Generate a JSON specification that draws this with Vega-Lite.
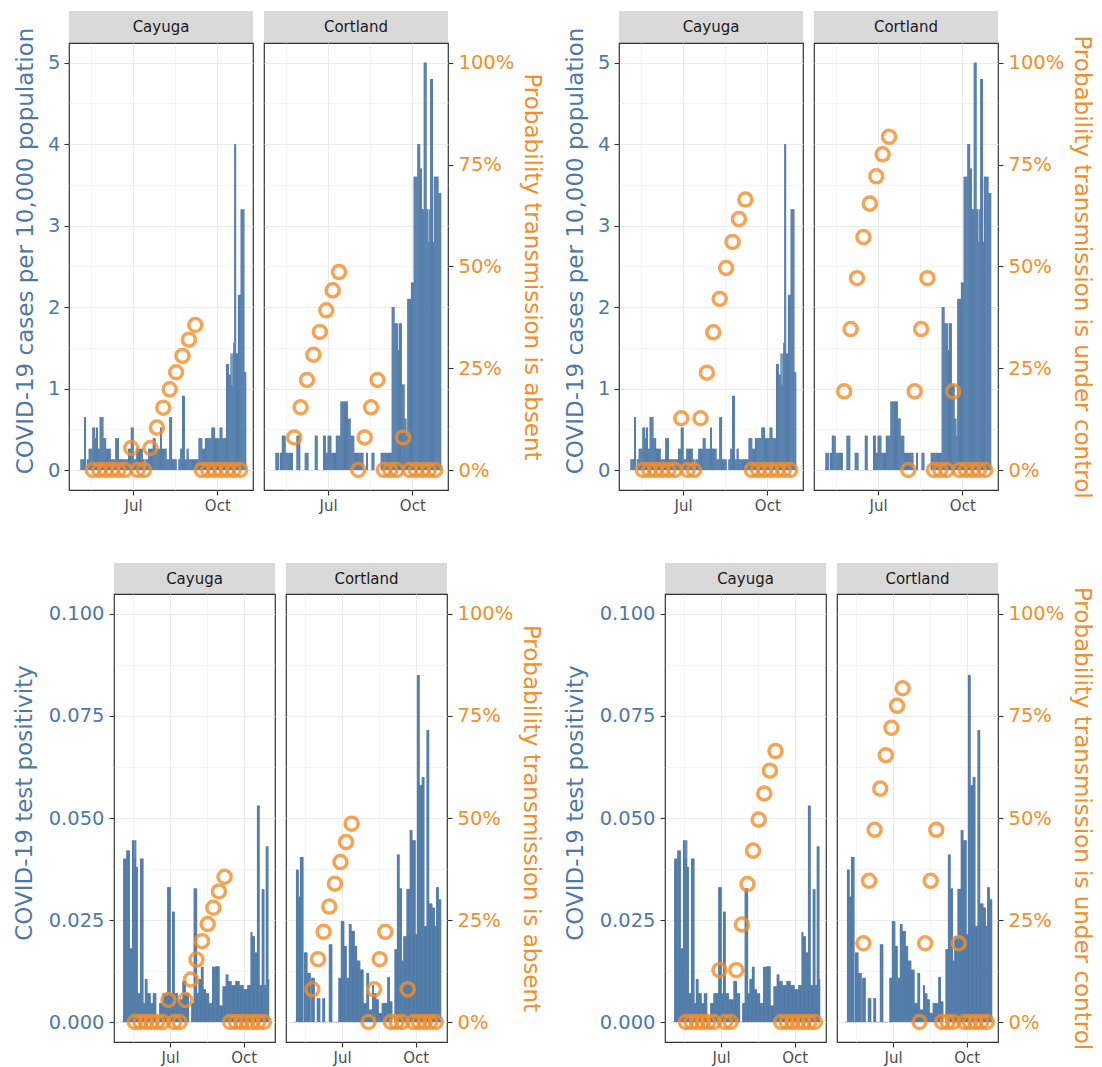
{
"$schema":"https://vega.github.io/schema/vega-lite/v6.json",
"padding":{"left":12,"top":11,"right":0,"bottom":0},
"datasets":{
"daily":[
{"date":"2020-05-01","cay_cases":0,"cor_cases":0,"cay_pos":0,"cor_pos":0},
{"date":"2020-05-02","cay_cases":0,"cor_cases":0,"cay_pos":0,"cor_pos":0},
{"date":"2020-05-03","cay_cases":0,"cor_cases":0,"cay_pos":0.04,"cor_pos":0},
{"date":"2020-05-04","cay_cases":0.13,"cor_cases":0.21,"cay_pos":0.04,"cor_pos":0.0373},
{"date":"2020-05-05","cay_cases":0.13,"cor_cases":0.21,"cay_pos":0.04,"cor_pos":0.0373},
{"date":"2020-05-06","cay_cases":0.13,"cor_cases":0.21,"cay_pos":0.04,"cor_pos":0.0373},
{"date":"2020-05-07","cay_cases":0.13,"cor_cases":0.21,"cay_pos":0.042,"cor_pos":0.0307},
{"date":"2020-05-08","cay_cases":0.65,"cor_cases":0,"cay_pos":0.042,"cor_pos":0.0307},
{"date":"2020-05-09","cay_cases":0.65,"cor_cases":0.21,"cay_pos":0.042,"cor_pos":0.0404},
{"date":"2020-05-10","cay_cases":0,"cor_cases":0.21,"cay_pos":0.042,"cor_pos":0.0404},
{"date":"2020-05-11","cay_cases":0.13,"cor_cases":0.42,"cay_pos":0.018,"cor_pos":0.0404},
{"date":"2020-05-12","cay_cases":0.13,"cor_cases":0.42,"cay_pos":0.018,"cor_pos":0.0404},
{"date":"2020-05-13","cay_cases":0.26,"cor_cases":0.42,"cay_pos":0.018,"cor_pos":0},
{"date":"2020-05-14","cay_cases":0.26,"cor_cases":0.42,"cay_pos":0.0445,"cor_pos":0.017},
{"date":"2020-05-15","cay_cases":0.26,"cor_cases":0.21,"cay_pos":0.0445,"cor_pos":0.017},
{"date":"2020-05-16","cay_cases":0.26,"cor_cases":0.21,"cay_pos":0.0445,"cor_pos":0.017},
{"date":"2020-05-17","cay_cases":0.52,"cor_cases":0.21,"cay_pos":0.04,"cor_pos":0.017},
{"date":"2020-05-18","cay_cases":0.52,"cor_cases":0.21,"cay_pos":0.0445,"cor_pos":0.012},
{"date":"2020-05-19","cay_cases":0.52,"cor_cases":0.21,"cay_pos":0.038,"cor_pos":0.012},
{"date":"2020-05-20","cay_cases":0.39,"cor_cases":0.21,"cay_pos":0.038,"cor_pos":0.012},
{"date":"2020-05-21","cay_cases":0.52,"cor_cases":0.21,"cay_pos":0.007,"cor_pos":0.012},
{"date":"2020-05-22","cay_cases":0.52,"cor_cases":0.21,"cay_pos":0.007,"cor_pos":0},
{"date":"2020-05-23","cay_cases":0.26,"cor_cases":0,"cay_pos":0.007,"cor_pos":0.0108},
{"date":"2020-05-24","cay_cases":0.26,"cor_cases":0,"cay_pos":0.04,"cor_pos":0.0108},
{"date":"2020-05-25","cay_cases":0.65,"cor_cases":0,"cay_pos":0.04,"cor_pos":0.0108},
{"date":"2020-05-26","cay_cases":0.65,"cor_cases":0,"cay_pos":0.04,"cor_pos":0.0108},
{"date":"2020-05-27","cay_cases":0.65,"cor_cases":0.42,"cay_pos":0.04,"cor_pos":0},
{"date":"2020-05-28","cay_cases":0.65,"cor_cases":0.42,"cay_pos":0.0046,"cor_pos":0},
{"date":"2020-05-29","cay_cases":0.39,"cor_cases":0.42,"cay_pos":0.0046,"cor_pos":0},
{"date":"2020-05-30","cay_cases":0.39,"cor_cases":0.42,"cay_pos":0.0105,"cor_pos":0.0058},
{"date":"2020-05-31","cay_cases":0.39,"cor_cases":0,"cay_pos":0.0105,"cor_pos":0.0058},
{"date":"2020-06-01","cay_cases":0.26,"cor_cases":0,"cay_pos":0.0105,"cor_pos":0.0058},
{"date":"2020-06-02","cay_cases":0.26,"cor_cases":0,"cay_pos":0.007,"cor_pos":0.0058},
{"date":"2020-06-03","cay_cases":0.26,"cor_cases":0,"cay_pos":0.007,"cor_pos":0},
{"date":"2020-06-04","cay_cases":0.26,"cor_cases":0,"cay_pos":0.007,"cor_pos":0},
{"date":"2020-06-05","cay_cases":0.26,"cor_cases":0.21,"cay_pos":0.007,"cor_pos":0},
{"date":"2020-06-06","cay_cases":0.13,"cor_cases":0.21,"cay_pos":0.0046,"cor_pos":0.0058},
{"date":"2020-06-07","cay_cases":0.13,"cor_cases":0.21,"cay_pos":0.0046,"cor_pos":0.0058},
{"date":"2020-06-08","cay_cases":0.13,"cor_cases":0.21,"cay_pos":0.0046,"cor_pos":0.0058},
{"date":"2020-06-09","cay_cases":0.13,"cor_cases":0,"cay_pos":0.007,"cor_pos":0},
{"date":"2020-06-10","cay_cases":0.13,"cor_cases":0,"cay_pos":0.007,"cor_pos":0},
{"date":"2020-06-11","cay_cases":0.39,"cor_cases":0,"cay_pos":0.007,"cor_pos":0},
{"date":"2020-06-12","cay_cases":0.39,"cor_cases":0,"cay_pos":0.007,"cor_pos":0},
{"date":"2020-06-13","cay_cases":0.39,"cor_cases":0,"cay_pos":0,"cor_pos":0},
{"date":"2020-06-14","cay_cases":0.39,"cor_cases":0,"cay_pos":0,"cor_pos":0.019},
{"date":"2020-06-15","cay_cases":0.13,"cor_cases":0,"cay_pos":0,"cor_pos":0.019},
{"date":"2020-06-16","cay_cases":0.13,"cor_cases":0.42,"cay_pos":0,"cor_pos":0.019},
{"date":"2020-06-17","cay_cases":0.13,"cor_cases":0.42,"cay_pos":0.0046,"cor_pos":0.019},
{"date":"2020-06-18","cay_cases":0.13,"cor_cases":0.42,"cay_pos":0.0046,"cor_pos":0},
{"date":"2020-06-19","cay_cases":0.13,"cor_cases":0,"cay_pos":0.0046,"cor_pos":0},
{"date":"2020-06-20","cay_cases":0.13,"cor_cases":0,"cay_pos":0.0046,"cor_pos":0},
{"date":"2020-06-21","cay_cases":0.13,"cor_cases":0,"cay_pos":0.007,"cor_pos":0},
{"date":"2020-06-22","cay_cases":0.13,"cor_cases":0,"cay_pos":0.007,"cor_pos":0},
{"date":"2020-06-23","cay_cases":0.13,"cor_cases":0,"cay_pos":0.007,"cor_pos":0},
{"date":"2020-06-24","cay_cases":0.13,"cor_cases":0,"cay_pos":0.007,"cor_pos":0},
{"date":"2020-06-25","cay_cases":0.26,"cor_cases":0.42,"cay_pos":0.007,"cor_pos":0},
{"date":"2020-06-26","cay_cases":0.26,"cor_cases":0.42,"cay_pos":0.007,"cor_pos":0.0108},
{"date":"2020-06-27","cay_cases":0.26,"cor_cases":0.42,"cay_pos":0.033,"cor_pos":0.0108},
{"date":"2020-06-28","cay_cases":0.52,"cor_cases":0.21,"cay_pos":0.033,"cor_pos":0.0108},
{"date":"2020-06-29","cay_cases":0.52,"cor_cases":0.21,"cay_pos":0.033,"cor_pos":0.0247},
{"date":"2020-06-30","cay_cases":0.52,"cor_cases":0.42,"cay_pos":0.033,"cor_pos":0.0247},
{"date":"2020-07-01","cay_cases":0.13,"cor_cases":0.42,"cay_pos":0.007,"cor_pos":0.0247},
{"date":"2020-07-02","cay_cases":0.13,"cor_cases":0.42,"cay_pos":0.007,"cor_pos":0.0247},
{"date":"2020-07-03","cay_cases":0.13,"cor_cases":0.42,"cay_pos":0.027,"cor_pos":0.0186},
{"date":"2020-07-04","cay_cases":0.26,"cor_cases":0.21,"cay_pos":0.027,"cor_pos":0.0186},
{"date":"2020-07-05","cay_cases":0.26,"cor_cases":0.21,"cay_pos":0.027,"cor_pos":0.0186},
{"date":"2020-07-06","cay_cases":0.26,"cor_cases":0.21,"cay_pos":0.007,"cor_pos":0.0108},
{"date":"2020-07-07","cay_cases":0.26,"cor_cases":0.21,"cay_pos":0.007,"cor_pos":0.0108},
{"date":"2020-07-08","cay_cases":0.26,"cor_cases":0.21,"cay_pos":0.007,"cor_pos":0.0108},
{"date":"2020-07-09","cay_cases":0.26,"cor_cases":0.42,"cay_pos":0.007,"cor_pos":0.024},
{"date":"2020-07-10","cay_cases":0.26,"cor_cases":0.42,"cay_pos":0.0055,"cor_pos":0.024},
{"date":"2020-07-11","cay_cases":0.13,"cor_cases":0.42,"cay_pos":0.0055,"cor_pos":0.024},
{"date":"2020-07-12","cay_cases":0.13,"cor_cases":0.42,"cay_pos":0.0055,"cor_pos":0.0223},
{"date":"2020-07-13","cay_cases":0,"cor_cases":0.42,"cay_pos":0.0055,"cor_pos":0.0223},
{"date":"2020-07-14","cay_cases":0.13,"cor_cases":0.84,"cay_pos":0.0055,"cor_pos":0.0223},
{"date":"2020-07-15","cay_cases":0.13,"cor_cases":0.84,"cay_pos":0.0055,"cor_pos":0.0223},
{"date":"2020-07-16","cay_cases":0.13,"cor_cases":0.84,"cay_pos":0.01,"cor_pos":0.0186},
{"date":"2020-07-17","cay_cases":0.26,"cor_cases":0.84,"cay_pos":0.01,"cor_pos":0.0186},
{"date":"2020-07-18","cay_cases":0.26,"cor_cases":0.84,"cay_pos":0.01,"cor_pos":0.0186},
{"date":"2020-07-19","cay_cases":0.26,"cor_cases":0.84,"cay_pos":0.01,"cor_pos":0.015},
{"date":"2020-07-20","cay_cases":0.26,"cor_cases":0.84,"cay_pos":0.007,"cor_pos":0.015},
{"date":"2020-07-21","cay_cases":0.26,"cor_cases":0.84,"cay_pos":0.007,"cor_pos":0.015},
{"date":"2020-07-22","cay_cases":0.39,"cor_cases":0.63,"cay_pos":0.007,"cor_pos":0.015},
{"date":"2020-07-23","cay_cases":0.39,"cor_cases":0.63,"cay_pos":0.007,"cor_pos":0.0128},
{"date":"2020-07-24","cay_cases":0.39,"cor_cases":0.63,"cay_pos":0,"cor_pos":0.0128},
{"date":"2020-07-25","cay_cases":0.26,"cor_cases":0.42,"cay_pos":0,"cor_pos":0.0128},
{"date":"2020-07-26","cay_cases":0.26,"cor_cases":0.42,"cay_pos":0,"cor_pos":0.0128},
{"date":"2020-07-27","cay_cases":0.26,"cor_cases":0.42,"cay_pos":0.0046,"cor_pos":0.0046},
{"date":"2020-07-28","cay_cases":0.26,"cor_cases":0.42,"cay_pos":0.0046,"cor_pos":0.0046},
{"date":"2020-07-29","cay_cases":0.26,"cor_cases":0.21,"cay_pos":0.0046,"cor_pos":0.0046},
{"date":"2020-07-30","cay_cases":0.52,"cor_cases":0.21,"cay_pos":0.0327,"cor_pos":0.0046},
{"date":"2020-07-31","cay_cases":0.52,"cor_cases":0.21,"cay_pos":0.0327,"cor_pos":0.012},
{"date":"2020-08-01","cay_cases":0.26,"cor_cases":0.21,"cay_pos":0.0327,"cor_pos":0.012},
{"date":"2020-08-02","cay_cases":0.26,"cor_cases":0.21,"cay_pos":0.0327,"cor_pos":0.012},
{"date":"2020-08-03","cay_cases":0.26,"cor_cases":0.21,"cay_pos":0.007,"cor_pos":0.003},
{"date":"2020-08-04","cay_cases":0.26,"cor_cases":0.21,"cay_pos":0.007,"cor_pos":0.003},
{"date":"2020-08-05","cay_cases":0.26,"cor_cases":0.21,"cay_pos":0.0105,"cor_pos":0.003},
{"date":"2020-08-06","cay_cases":0.13,"cor_cases":0.21,"cay_pos":0.0105,"cor_pos":0.003},
{"date":"2020-08-07","cay_cases":0.13,"cor_cases":0.21,"cay_pos":0.0105,"cor_pos":0.009},
{"date":"2020-08-08","cay_cases":0.13,"cor_cases":0,"cay_pos":0.0135,"cor_pos":0.009},
{"date":"2020-08-09","cay_cases":0.65,"cor_cases":0,"cay_pos":0.0135,"cor_pos":0.007},
{"date":"2020-08-10","cay_cases":0.65,"cor_cases":0,"cay_pos":0.0135,"cor_pos":0.007},
{"date":"2020-08-11","cay_cases":0.65,"cor_cases":0.21,"cay_pos":0.008,"cor_pos":0.007},
{"date":"2020-08-12","cay_cases":0.13,"cor_cases":0.21,"cay_pos":0.008,"cor_pos":0.0055},
{"date":"2020-08-13","cay_cases":0.13,"cor_cases":0,"cay_pos":0.008,"cor_pos":0.0055},
{"date":"2020-08-14","cay_cases":0.13,"cor_cases":0,"cay_pos":0.007,"cor_pos":0.0055},
{"date":"2020-08-15","cay_cases":0.13,"cor_cases":0,"cay_pos":0.007,"cor_pos":0.0022},
{"date":"2020-08-16","cay_cases":0.13,"cor_cases":0,"cay_pos":0.007,"cor_pos":0.0022},
{"date":"2020-08-17","cay_cases":0,"cor_cases":0.21,"cay_pos":0.007,"cor_pos":0.0022},
{"date":"2020-08-18","cay_cases":0,"cor_cases":0.21,"cay_pos":0.0046,"cor_pos":0.0022},
{"date":"2020-08-19","cay_cases":0.13,"cor_cases":0.21,"cay_pos":0.0046,"cor_pos":0.0046},
{"date":"2020-08-20","cay_cases":0.13,"cor_cases":0,"cay_pos":0.0046,"cor_pos":0.0046},
{"date":"2020-08-21","cay_cases":0.26,"cor_cases":0,"cay_pos":0.0046,"cor_pos":0.0046},
{"date":"2020-08-22","cay_cases":0.26,"cor_cases":0,"cay_pos":0.0135,"cor_pos":0.0046},
{"date":"2020-08-23","cay_cases":0.91,"cor_cases":0,"cay_pos":0.0135,"cor_pos":0.0046},
{"date":"2020-08-24","cay_cases":0.91,"cor_cases":0,"cay_pos":0.0135,"cor_pos":0.0046},
{"date":"2020-08-25","cay_cases":0.91,"cor_cases":0,"cay_pos":0.0135,"cor_pos":0.0046},
{"date":"2020-08-26","cay_cases":0.13,"cor_cases":0,"cay_pos":0.0136,"cor_pos":0.011},
{"date":"2020-08-27","cay_cases":0.13,"cor_cases":0.21,"cay_pos":0.0136,"cor_pos":0.011},
{"date":"2020-08-28","cay_cases":0.26,"cor_cases":0.21,"cay_pos":0.0136,"cor_pos":0.011},
{"date":"2020-08-29","cay_cases":0.26,"cor_cases":0.21,"cay_pos":0.0136,"cor_pos":0.005},
{"date":"2020-08-30","cay_cases":0.13,"cor_cases":0.21,"cay_pos":0.0136,"cor_pos":0.005},
{"date":"2020-08-31","cay_cases":0.13,"cor_cases":0.21,"cay_pos":0.004,"cor_pos":0.005},
{"date":"2020-09-01","cay_cases":0.13,"cor_cases":0.21,"cay_pos":0.004,"cor_pos":0},
{"date":"2020-09-02","cay_cases":0.13,"cor_cases":0.21,"cay_pos":0.004,"cor_pos":0},
{"date":"2020-09-03","cay_cases":0.13,"cor_cases":0.21,"cay_pos":0.004,"cor_pos":0},
{"date":"2020-09-04","cay_cases":0.13,"cor_cases":0.21,"cay_pos":0.0087,"cor_pos":0.0178},
{"date":"2020-09-05","cay_cases":0.13,"cor_cases":0.21,"cay_pos":0.0087,"cor_pos":0.0178},
{"date":"2020-09-06","cay_cases":0.13,"cor_cases":0.21,"cay_pos":0.0087,"cor_pos":0.0178},
{"date":"2020-09-07","cay_cases":0.13,"cor_cases":0.21,"cay_pos":0.0087,"cor_pos":0.041},
{"date":"2020-09-08","cay_cases":0.13,"cor_cases":2.0,"cay_pos":0.0116,"cor_pos":0.041},
{"date":"2020-09-09","cay_cases":0.13,"cor_cases":2.0,"cay_pos":0.0116,"cor_pos":0.041},
{"date":"2020-09-10","cay_cases":0.39,"cor_cases":2.0,"cay_pos":0.0116,"cor_pos":0.0327},
{"date":"2020-09-11","cay_cases":0.39,"cor_cases":1.8,"cay_pos":0.01,"cor_pos":0.0327},
{"date":"2020-09-12","cay_cases":0.39,"cor_cases":1.8,"cay_pos":0.01,"cor_pos":0.0327},
{"date":"2020-09-13","cay_cases":0.39,"cor_cases":1.8,"cay_pos":0.01,"cor_pos":0.015},
{"date":"2020-09-14","cay_cases":0.26,"cor_cases":1.8,"cay_pos":0.01,"cor_pos":0.015},
{"date":"2020-09-15","cay_cases":0.26,"cor_cases":1.47,"cay_pos":0.009,"cor_pos":0.021},
{"date":"2020-09-16","cay_cases":0.26,"cor_cases":1.8,"cay_pos":0.009,"cor_pos":0.021},
{"date":"2020-09-17","cay_cases":0.39,"cor_cases":1.8,"cay_pos":0.009,"cor_pos":0.021},
{"date":"2020-09-18","cay_cases":0.39,"cor_cases":1.8,"cay_pos":0.009,"cor_pos":0.021},
{"date":"2020-09-19","cay_cases":0.39,"cor_cases":1.05,"cay_pos":0.009,"cor_pos":0.0326},
{"date":"2020-09-20","cay_cases":0.39,"cor_cases":1.05,"cay_pos":0.01,"cor_pos":0.0326},
{"date":"2020-09-21","cay_cases":0.39,"cor_cases":1.05,"cay_pos":0.01,"cor_pos":0.0326},
{"date":"2020-09-22","cay_cases":0.39,"cor_cases":0.63,"cay_pos":0.01,"cor_pos":0.0326},
{"date":"2020-09-23","cay_cases":0.39,"cor_cases":0.63,"cay_pos":0.01,"cor_pos":0.047},
{"date":"2020-09-24","cay_cases":0.52,"cor_cases":0.42,"cay_pos":0.01,"cor_pos":0.047},
{"date":"2020-09-25","cay_cases":0.52,"cor_cases":2.1,"cay_pos":0.009,"cor_pos":0.047},
{"date":"2020-09-26","cay_cases":0.52,"cor_cases":2.1,"cay_pos":0.009,"cor_pos":0.0445},
{"date":"2020-09-27","cay_cases":0.52,"cor_cases":2.1,"cay_pos":0.009,"cor_pos":0.0445},
{"date":"2020-09-28","cay_cases":0.39,"cor_cases":2.1,"cay_pos":0.009,"cor_pos":0.0445},
{"date":"2020-09-29","cay_cases":0.39,"cor_cases":2.3,"cay_pos":0.009,"cor_pos":0.0445},
{"date":"2020-09-30","cay_cases":0.39,"cor_cases":2.3,"cay_pos":0.008,"cor_pos":0.0215},
{"date":"2020-10-01","cay_cases":0.39,"cor_cases":2.3,"cay_pos":0.008,"cor_pos":0.0215},
{"date":"2020-10-02","cay_cases":0.39,"cor_cases":3.6,"cay_pos":0.008,"cor_pos":0.085},
{"date":"2020-10-03","cay_cases":0.52,"cor_cases":3.6,"cay_pos":0.008,"cor_pos":0.085},
{"date":"2020-10-04","cay_cases":0.52,"cor_cases":3.6,"cay_pos":0.008,"cor_pos":0.085},
{"date":"2020-10-05","cay_cases":0.52,"cor_cases":3.6,"cay_pos":0.009,"cor_pos":0.058},
{"date":"2020-10-06","cay_cases":0.39,"cor_cases":4.0,"cay_pos":0.009,"cor_pos":0.058},
{"date":"2020-10-07","cay_cases":0.39,"cor_cases":4.0,"cay_pos":0.009,"cor_pos":0.058},
{"date":"2020-10-08","cay_cases":0.39,"cor_cases":4.0,"cay_pos":0.009,"cor_pos":0.06},
{"date":"2020-10-09","cay_cases":0.39,"cor_cases":3.7,"cay_pos":0.022,"cor_pos":0.06},
{"date":"2020-10-10","cay_cases":1.3,"cor_cases":3.7,"cay_pos":0.022,"cor_pos":0.06},
{"date":"2020-10-11","cay_cases":1.3,"cor_cases":3.2,"cay_pos":0.021,"cor_pos":0.0235},
{"date":"2020-10-12","cay_cases":1.3,"cor_cases":3.2,"cay_pos":0.021,"cor_pos":0.0235},
{"date":"2020-10-13","cay_cases":1.17,"cor_cases":5.0,"cay_pos":0.021,"cor_pos":0.0235},
{"date":"2020-10-14","cay_cases":1.17,"cor_cases":5.0,"cay_pos":0.017,"cor_pos":0.0715},
{"date":"2020-10-15","cay_cases":1.43,"cor_cases":5.0,"cay_pos":0.017,"cor_pos":0.0715},
{"date":"2020-10-16","cay_cases":1.04,"cor_cases":3.2,"cay_pos":0.017,"cor_pos":0.0715},
{"date":"2020-10-17","cay_cases":1.43,"cor_cases":3.2,"cay_pos":0.053,"cor_pos":0.029},
{"date":"2020-10-18","cay_cases":1.56,"cor_cases":2.8,"cay_pos":0.053,"cor_pos":0.029},
{"date":"2020-10-19","cay_cases":4.0,"cor_cases":3.2,"cay_pos":0.053,"cor_pos":0.029},
{"date":"2020-10-20","cay_cases":4.0,"cor_cases":4.8,"cay_pos":0.009,"cor_pos":0.029},
{"date":"2020-10-21","cay_cases":1.43,"cor_cases":4.8,"cay_pos":0.009,"cor_pos":0.028},
{"date":"2020-10-22","cay_cases":1.43,"cor_cases":4.8,"cay_pos":0.009,"cor_pos":0.028},
{"date":"2020-10-23","cay_cases":2.15,"cor_cases":2.8,"cay_pos":0.0325,"cor_pos":0.028},
{"date":"2020-10-24","cay_cases":2.15,"cor_cases":3.6,"cay_pos":0.0325,"cor_pos":0.0235},
{"date":"2020-10-25","cay_cases":2.15,"cor_cases":3.6,"cay_pos":0.0325,"cor_pos":0.0235},
{"date":"2020-10-26","cay_cases":3.2,"cor_cases":3.6,"cay_pos":0.009,"cor_pos":0.033},
{"date":"2020-10-27","cay_cases":3.2,"cor_cases":3.6,"cay_pos":0.009,"cor_pos":0.033},
{"date":"2020-10-28","cay_cases":3.2,"cor_cases":3.6,"cay_pos":0.043,"cor_pos":0.033},
{"date":"2020-10-29","cay_cases":3.2,"cor_cases":3.4,"cay_pos":0.043,"cor_pos":0.03},
{"date":"2020-10-30","cay_cases":1.2,"cor_cases":3.4,"cay_pos":0.043,"cor_pos":0.03},
{"date":"2020-10-31","cay_cases":1.2,"cor_cases":3.4,"cay_pos":0.0105,"cor_pos":0.03}
],
"weekly":[
{"date":"2020-05-18","county":"Cayuga","absent":0,"control":0},
{"date":"2020-05-25","county":"Cayuga","absent":0,"control":0},
{"date":"2020-06-01","county":"Cayuga","absent":0,"control":0},
{"date":"2020-06-08","county":"Cayuga","absent":0,"control":0},
{"date":"2020-06-15","county":"Cayuga","absent":0,"control":0},
{"date":"2020-06-22","county":"Cayuga","absent":0,"control":0},
{"date":"2020-06-29","county":"Cayuga","absent":0.054,"control":0.127},
{"date":"2020-07-06","county":"Cayuga","absent":0,"control":0},
{"date":"2020-07-13","county":"Cayuga","absent":0,"control":0},
{"date":"2020-07-20","county":"Cayuga","absent":0.054,"control":0.127},
{"date":"2020-07-27","county":"Cayuga","absent":0.104,"control":0.239},
{"date":"2020-08-03","county":"Cayuga","absent":0.153,"control":0.338},
{"date":"2020-08-10","county":"Cayuga","absent":0.198,"control":0.42},
{"date":"2020-08-17","county":"Cayuga","absent":0.24,"control":0.496},
{"date":"2020-08-24","county":"Cayuga","absent":0.28,"control":0.56},
{"date":"2020-08-31","county":"Cayuga","absent":0.32,"control":0.616},
{"date":"2020-09-07","county":"Cayuga","absent":0.356,"control":0.664},
{"date":"2020-09-14","county":"Cayuga","absent":0,"control":0},
{"date":"2020-09-21","county":"Cayuga","absent":0,"control":0},
{"date":"2020-09-28","county":"Cayuga","absent":0,"control":0},
{"date":"2020-10-05","county":"Cayuga","absent":0,"control":0},
{"date":"2020-10-12","county":"Cayuga","absent":0,"control":0},
{"date":"2020-10-19","county":"Cayuga","absent":0,"control":0},
{"date":"2020-10-26","county":"Cayuga","absent":0,"control":0},
{"date":"2020-05-25","county":"Cortland","absent":0.08,"control":0.193},
{"date":"2020-06-01","county":"Cortland","absent":0.154,"control":0.346},
{"date":"2020-06-08","county":"Cortland","absent":0.221,"control":0.471},
{"date":"2020-06-15","county":"Cortland","absent":0.283,"control":0.572},
{"date":"2020-06-22","county":"Cortland","absent":0.339,"control":0.654},
{"date":"2020-06-29","county":"Cortland","absent":0.392,"control":0.721},
{"date":"2020-07-06","county":"Cortland","absent":0.441,"control":0.775},
{"date":"2020-07-13","county":"Cortland","absent":0.486,"control":0.818},
{"date":"2020-08-03","county":"Cortland","absent":0,"control":0},
{"date":"2020-08-10","county":"Cortland","absent":0.08,"control":0.193},
{"date":"2020-08-17","county":"Cortland","absent":0.154,"control":0.346},
{"date":"2020-08-24","county":"Cortland","absent":0.221,"control":0.471},
{"date":"2020-08-31","county":"Cortland","absent":0,"control":0},
{"date":"2020-09-07","county":"Cortland","absent":0,"control":0},
{"date":"2020-09-14","county":"Cortland","absent":0,"control":0},
{"date":"2020-09-21","county":"Cortland","absent":0.08,"control":0.193},
{"date":"2020-09-28","county":"Cortland","absent":0,"control":0},
{"date":"2020-10-05","county":"Cortland","absent":0,"control":0},
{"date":"2020-10-12","county":"Cortland","absent":0,"control":0},
{"date":"2020-10-19","county":"Cortland","absent":0,"control":0},
{"date":"2020-10-26","county":"Cortland","absent":0,"control":0}
]
},
"spacing":49,
"vconcat":[
{"spacing":20,"hconcat":[
 {"spacing":8,"hconcat":[
  {"spacing":0,"bounds":"flush","vconcat":[
   {"width":184,"height":32,"data":{"values":[{"county":"Cayuga"}]},"view":{"fill":"#D9D9D9"},"mark":{"type":"text","fontSize":15,"color":"#1A1A1A","baseline":"middle","align":"center"},"encoding":{"text":{"field":"county"}}},
   {"width":184,"height":447,
    "encoding":{"x":{"field":"date","timeUnit":"yearmonthdate","type":"temporal","title":null,"scale":{"domain":[{"year":2020,"month":4,"date":22},{"year":2020,"month":11,"date":9}]},"axis":{"values":[{"year":2020,"month":5,"date":16},{"year":2020,"month":7,"date":1},{"year":2020,"month":8,"date":16},{"year":2020,"month":10,"date":1}],"labelExpr":"date(datum.value) === 1 ? timeFormat(datum.value, '%b') : ''","tickOpacity":{"condition":{"test":"date(datum.value) !== 1","value":0},"value":1},"gridWidth":{"condition":{"test":"date(datum.value) !== 1","value":0.55},"value":1.1}}}},
    "layer":[
     {"data":{"name":"daily"},"mark":{"type":"bar","color":"#4E79A7","stroke":"#4E79A7","strokeWidth":0.8},
      "encoding":{"y":{"field":"cay_cases","type":"quantitative","title":"COVID-19 cases per 10,000 population","scale":{"domain":[-0.2455,5.242],"nice":false},"axis":{"values":[0,0.5,1,1.5,2,2.5,3,3.5,4,4.5,5],"labelExpr":"datum.value % 1 === 0 ? format(datum.value, 'd') : ''","tickOpacity":{"condition":{"test":"datum.value % 1 !== 0","value":0},"value":1},"gridWidth":{"condition":{"test":"datum.value % 1 !== 0","value":0.55},"value":1.1},"labelColor":"#4E79A7","labelFontSize":19.5,"labelPadding":4,"titleColor":"#4E79A7","titleFontSize":23,"titlePadding":5,"minExtent":27,"maxExtent":27,"titleY":207.5}}}},
     {"data":{"name":"weekly"},"transform":[{"filter":"datum.county === 'Cayuga'"}],"mark":{"type":"point","shape":"circle","filled":false,"size":170,"strokeWidth":3.5,"color":"#F28E2B","opacity":0.8},
      "encoding":{"y":{"field":"absent","type":"quantitative","scale":{"domain":[-0.0491,1.0484],"nice":false},"axis":null}}}
    ],
    "resolve":{"scale":{"y":"independent"}}}
  ]},
  {"spacing":0,"bounds":"flush","vconcat":[
   {"width":184,"height":32,"data":{"values":[{"county":"Cortland"}]},"view":{"fill":"#D9D9D9"},"mark":{"type":"text","fontSize":15,"color":"#1A1A1A","baseline":"middle","align":"center"},"encoding":{"text":{"field":"county"}}},
   {"width":184,"height":447,
    "encoding":{"x":{"field":"date","timeUnit":"yearmonthdate","type":"temporal","title":null,"scale":{"domain":[{"year":2020,"month":4,"date":22},{"year":2020,"month":11,"date":9}]},"axis":{"values":[{"year":2020,"month":5,"date":16},{"year":2020,"month":7,"date":1},{"year":2020,"month":8,"date":16},{"year":2020,"month":10,"date":1}],"labelExpr":"date(datum.value) === 1 ? timeFormat(datum.value, '%b') : ''","tickOpacity":{"condition":{"test":"date(datum.value) !== 1","value":0},"value":1},"gridWidth":{"condition":{"test":"date(datum.value) !== 1","value":0.55},"value":1.1}}}},
    "layer":[
     {"data":{"name":"daily"},"mark":{"type":"bar","color":"#4E79A7","stroke":"#4E79A7","strokeWidth":0.8},
      "encoding":{"y":{"field":"cor_cases","type":"quantitative","title":null,"scale":{"domain":[-0.2455,5.242],"nice":false},"axis":{"values":[0,0.5,1,1.5,2,2.5,3,3.5,4,4.5,5],"labels":false,"ticks":false,"gridWidth":{"condition":{"test":"datum.value % 1 !== 0","value":0.55},"value":1.1},"minExtent":0,"maxExtent":0}}}},
     {"data":{"name":"weekly"},"transform":[{"filter":"datum.county === 'Cortland'"}],"mark":{"type":"point","shape":"circle","filled":false,"size":170,"strokeWidth":3.5,"color":"#F28E2B","opacity":0.8},
      "encoding":{"y":{"field":"absent","type":"quantitative","title":"Probability transmission is absent","scale":{"domain":[-0.0491,1.0484],"nice":false},"axis":{"orient":"right","values":[0,0.25,0.5,0.75,1],"format":".0%","grid":false,"labelColor":"#F28E2B","labelFontSize":19.5,"labelPadding":5,"titleColor":"#F28E2B","titleFontSize":23,"titlePadding":3,"minExtent":68,"maxExtent":68}}}}
    ],
    "resolve":{"scale":{"y":"independent"}}}
  ]}
 ]},
 {"spacing":8,"hconcat":[
  {"spacing":0,"bounds":"flush","vconcat":[
   {"width":184,"height":32,"data":{"values":[{"county":"Cayuga"}]},"view":{"fill":"#D9D9D9"},"mark":{"type":"text","fontSize":15,"color":"#1A1A1A","baseline":"middle","align":"center"},"encoding":{"text":{"field":"county"}}},
   {"width":184,"height":447,
    "encoding":{"x":{"field":"date","timeUnit":"yearmonthdate","type":"temporal","title":null,"scale":{"domain":[{"year":2020,"month":4,"date":22},{"year":2020,"month":11,"date":9}]},"axis":{"values":[{"year":2020,"month":5,"date":16},{"year":2020,"month":7,"date":1},{"year":2020,"month":8,"date":16},{"year":2020,"month":10,"date":1}],"labelExpr":"date(datum.value) === 1 ? timeFormat(datum.value, '%b') : ''","tickOpacity":{"condition":{"test":"date(datum.value) !== 1","value":0},"value":1},"gridWidth":{"condition":{"test":"date(datum.value) !== 1","value":0.55},"value":1.1}}}},
    "layer":[
     {"data":{"name":"daily"},"mark":{"type":"bar","color":"#4E79A7","stroke":"#4E79A7","strokeWidth":0.8},
      "encoding":{"y":{"field":"cay_cases","type":"quantitative","title":"COVID-19 cases per 10,000 population","scale":{"domain":[-0.2455,5.242],"nice":false},"axis":{"values":[0,0.5,1,1.5,2,2.5,3,3.5,4,4.5,5],"labelExpr":"datum.value % 1 === 0 ? format(datum.value, 'd') : ''","tickOpacity":{"condition":{"test":"datum.value % 1 !== 0","value":0},"value":1},"gridWidth":{"condition":{"test":"datum.value % 1 !== 0","value":0.55},"value":1.1},"labelColor":"#4E79A7","labelFontSize":19.5,"labelPadding":4,"titleColor":"#4E79A7","titleFontSize":23,"titlePadding":5,"minExtent":27,"maxExtent":27,"titleY":207.5}}}},
     {"data":{"name":"weekly"},"transform":[{"filter":"datum.county === 'Cayuga'"}],"mark":{"type":"point","shape":"circle","filled":false,"size":170,"strokeWidth":3.5,"color":"#F28E2B","opacity":0.8},
      "encoding":{"y":{"field":"control","type":"quantitative","scale":{"domain":[-0.0491,1.0484],"nice":false},"axis":null}}}
    ],
    "resolve":{"scale":{"y":"independent"}}}
  ]},
  {"spacing":0,"bounds":"flush","vconcat":[
   {"width":184,"height":32,"data":{"values":[{"county":"Cortland"}]},"view":{"fill":"#D9D9D9"},"mark":{"type":"text","fontSize":15,"color":"#1A1A1A","baseline":"middle","align":"center"},"encoding":{"text":{"field":"county"}}},
   {"width":184,"height":447,
    "encoding":{"x":{"field":"date","timeUnit":"yearmonthdate","type":"temporal","title":null,"scale":{"domain":[{"year":2020,"month":4,"date":22},{"year":2020,"month":11,"date":9}]},"axis":{"values":[{"year":2020,"month":5,"date":16},{"year":2020,"month":7,"date":1},{"year":2020,"month":8,"date":16},{"year":2020,"month":10,"date":1}],"labelExpr":"date(datum.value) === 1 ? timeFormat(datum.value, '%b') : ''","tickOpacity":{"condition":{"test":"date(datum.value) !== 1","value":0},"value":1},"gridWidth":{"condition":{"test":"date(datum.value) !== 1","value":0.55},"value":1.1}}}},
    "layer":[
     {"data":{"name":"daily"},"mark":{"type":"bar","color":"#4E79A7","stroke":"#4E79A7","strokeWidth":0.8},
      "encoding":{"y":{"field":"cor_cases","type":"quantitative","title":null,"scale":{"domain":[-0.2455,5.242],"nice":false},"axis":{"values":[0,0.5,1,1.5,2,2.5,3,3.5,4,4.5,5],"labels":false,"ticks":false,"gridWidth":{"condition":{"test":"datum.value % 1 !== 0","value":0.55},"value":1.1},"minExtent":0,"maxExtent":0}}}},
     {"data":{"name":"weekly"},"transform":[{"filter":"datum.county === 'Cortland'"}],"mark":{"type":"point","shape":"circle","filled":false,"size":170,"strokeWidth":3.5,"color":"#F28E2B","opacity":0.8},
      "encoding":{"y":{"field":"control","type":"quantitative","title":"Probability transmission is under control","scale":{"domain":[-0.0491,1.0484],"nice":false},"axis":{"orient":"right","values":[0,0.25,0.5,0.75,1],"format":".0%","grid":false,"labelColor":"#F28E2B","labelFontSize":19.5,"labelPadding":5,"titleColor":"#F28E2B","titleFontSize":23,"titlePadding":3,"minExtent":68,"maxExtent":68}}}}
    ],
    "resolve":{"scale":{"y":"independent"}}}
  ]}
 ]}
]},
{"spacing":21,"hconcat":[
 {"spacing":-58,"hconcat":[
  {"width":1,"height":1,"data":{"values":[]},"mark":{"type":"text"},"view":{"stroke":null}},
  {"spacing":7,"hconcat":[
  {"spacing":0,"bounds":"flush","vconcat":[
   {"width":161,"height":31,"data":{"values":[{"county":"Cayuga"}]},"view":{"fill":"#D9D9D9"},"mark":{"type":"text","fontSize":15,"color":"#1A1A1A","baseline":"middle","align":"center"},"encoding":{"text":{"field":"county"}}},
   {"width":161,"height":448,
    "encoding":{"x":{"field":"date","timeUnit":"yearmonthdate","type":"temporal","title":null,"scale":{"domain":[{"year":2020,"month":4,"date":22},{"year":2020,"month":11,"date":9}]},"axis":{"values":[{"year":2020,"month":5,"date":16},{"year":2020,"month":7,"date":1},{"year":2020,"month":8,"date":16},{"year":2020,"month":10,"date":1}],"labelExpr":"date(datum.value) === 1 ? timeFormat(datum.value, '%b') : ''","tickOpacity":{"condition":{"test":"date(datum.value) !== 1","value":0},"value":1},"gridWidth":{"condition":{"test":"date(datum.value) !== 1","value":0.55},"value":1.1}}}},
    "layer":[
     {"data":{"name":"daily"},"mark":{"type":"bar","color":"#4E79A7","stroke":"#4E79A7","strokeWidth":0.8},
      "encoding":{"y":{"field":"cay_pos","type":"quantitative","title":"COVID-19 test positivity","scale":{"domain":[-0.0049,0.1049],"nice":false},"axis":{"values":[0,0.0125,0.025,0.0375,0.05,0.0625,0.075,0.0875,0.1],"labelExpr":"round(datum.value*10000) % 250 === 0 ? format(datum.value, '.3f') : ''","tickOpacity":{"condition":{"test":"round(datum.value*10000) % 250 !== 0","value":0},"value":1},"gridWidth":{"condition":{"test":"round(datum.value*10000) % 250 !== 0","value":0.55},"value":1.1},"labelColor":"#4E79A7","labelFontSize":19.5,"labelPadding":5,"titleColor":"#4E79A7","titleFontSize":23,"titlePadding":5,"minExtent":73,"maxExtent":73,"titleY":208.5}}}},
     {"data":{"name":"weekly"},"transform":[{"filter":"datum.county === 'Cayuga'"}],"mark":{"type":"point","shape":"circle","filled":false,"size":170,"strokeWidth":3.5,"color":"#F28E2B","opacity":0.8},
      "encoding":{"y":{"field":"absent","type":"quantitative","scale":{"domain":[-0.049,1.049],"nice":false},"axis":null}}}
    ],
    "resolve":{"scale":{"y":"independent"}}}
  ]},
  {"spacing":0,"bounds":"flush","vconcat":[
   {"width":161,"height":31,"data":{"values":[{"county":"Cortland"}]},"view":{"fill":"#D9D9D9"},"mark":{"type":"text","fontSize":15,"color":"#1A1A1A","baseline":"middle","align":"center"},"encoding":{"text":{"field":"county"}}},
   {"width":161,"height":448,
    "encoding":{"x":{"field":"date","timeUnit":"yearmonthdate","type":"temporal","title":null,"scale":{"domain":[{"year":2020,"month":4,"date":22},{"year":2020,"month":11,"date":9}]},"axis":{"values":[{"year":2020,"month":5,"date":16},{"year":2020,"month":7,"date":1},{"year":2020,"month":8,"date":16},{"year":2020,"month":10,"date":1}],"labelExpr":"date(datum.value) === 1 ? timeFormat(datum.value, '%b') : ''","tickOpacity":{"condition":{"test":"date(datum.value) !== 1","value":0},"value":1},"gridWidth":{"condition":{"test":"date(datum.value) !== 1","value":0.55},"value":1.1}}}},
    "layer":[
     {"data":{"name":"daily"},"mark":{"type":"bar","color":"#4E79A7","stroke":"#4E79A7","strokeWidth":0.8},
      "encoding":{"y":{"field":"cor_pos","type":"quantitative","title":null,"scale":{"domain":[-0.0049,0.1049],"nice":false},"axis":{"values":[0,0.0125,0.025,0.0375,0.05,0.0625,0.075,0.0875,0.1],"labels":false,"ticks":false,"gridWidth":{"condition":{"test":"round(datum.value*10000) % 250 !== 0","value":0.55},"value":1.1},"minExtent":0,"maxExtent":0}}}},
     {"data":{"name":"weekly"},"transform":[{"filter":"datum.county === 'Cortland'"}],"mark":{"type":"point","shape":"circle","filled":false,"size":170,"strokeWidth":3.5,"color":"#F28E2B","opacity":0.8},
      "encoding":{"y":{"field":"absent","type":"quantitative","title":"Probability transmission is absent","scale":{"domain":[-0.049,1.049],"nice":false},"axis":{"orient":"right","values":[0,0.25,0.5,0.75,1],"format":".0%","grid":false,"labelColor":"#F28E2B","labelFontSize":19.5,"labelPadding":5,"titleColor":"#F28E2B","titleFontSize":23,"titlePadding":3,"minExtent":68,"maxExtent":68}}}}
    ],
    "resolve":{"scale":{"y":"independent"}}}
  ]}
 ]}
 ]},
 {"spacing":7,"hconcat":[
  {"spacing":0,"bounds":"flush","vconcat":[
   {"width":161,"height":31,"data":{"values":[{"county":"Cayuga"}]},"view":{"fill":"#D9D9D9"},"mark":{"type":"text","fontSize":15,"color":"#1A1A1A","baseline":"middle","align":"center"},"encoding":{"text":{"field":"county"}}},
   {"width":161,"height":448,
    "encoding":{"x":{"field":"date","timeUnit":"yearmonthdate","type":"temporal","title":null,"scale":{"domain":[{"year":2020,"month":4,"date":22},{"year":2020,"month":11,"date":9}]},"axis":{"values":[{"year":2020,"month":5,"date":16},{"year":2020,"month":7,"date":1},{"year":2020,"month":8,"date":16},{"year":2020,"month":10,"date":1}],"labelExpr":"date(datum.value) === 1 ? timeFormat(datum.value, '%b') : ''","tickOpacity":{"condition":{"test":"date(datum.value) !== 1","value":0},"value":1},"gridWidth":{"condition":{"test":"date(datum.value) !== 1","value":0.55},"value":1.1}}}},
    "layer":[
     {"data":{"name":"daily"},"mark":{"type":"bar","color":"#4E79A7","stroke":"#4E79A7","strokeWidth":0.8},
      "encoding":{"y":{"field":"cay_pos","type":"quantitative","title":"COVID-19 test positivity","scale":{"domain":[-0.0049,0.1049],"nice":false},"axis":{"values":[0,0.0125,0.025,0.0375,0.05,0.0625,0.075,0.0875,0.1],"labelExpr":"round(datum.value*10000) % 250 === 0 ? format(datum.value, '.3f') : ''","tickOpacity":{"condition":{"test":"round(datum.value*10000) % 250 !== 0","value":0},"value":1},"gridWidth":{"condition":{"test":"round(datum.value*10000) % 250 !== 0","value":0.55},"value":1.1},"labelColor":"#4E79A7","labelFontSize":19.5,"labelPadding":5,"titleColor":"#4E79A7","titleFontSize":23,"titlePadding":5,"minExtent":73,"maxExtent":73,"titleY":208.5}}}},
     {"data":{"name":"weekly"},"transform":[{"filter":"datum.county === 'Cayuga'"}],"mark":{"type":"point","shape":"circle","filled":false,"size":170,"strokeWidth":3.5,"color":"#F28E2B","opacity":0.8},
      "encoding":{"y":{"field":"control","type":"quantitative","scale":{"domain":[-0.049,1.049],"nice":false},"axis":null}}}
    ],
    "resolve":{"scale":{"y":"independent"}}}
  ]},
  {"spacing":0,"bounds":"flush","vconcat":[
   {"width":161,"height":31,"data":{"values":[{"county":"Cortland"}]},"view":{"fill":"#D9D9D9"},"mark":{"type":"text","fontSize":15,"color":"#1A1A1A","baseline":"middle","align":"center"},"encoding":{"text":{"field":"county"}}},
   {"width":161,"height":448,
    "encoding":{"x":{"field":"date","timeUnit":"yearmonthdate","type":"temporal","title":null,"scale":{"domain":[{"year":2020,"month":4,"date":22},{"year":2020,"month":11,"date":9}]},"axis":{"values":[{"year":2020,"month":5,"date":16},{"year":2020,"month":7,"date":1},{"year":2020,"month":8,"date":16},{"year":2020,"month":10,"date":1}],"labelExpr":"date(datum.value) === 1 ? timeFormat(datum.value, '%b') : ''","tickOpacity":{"condition":{"test":"date(datum.value) !== 1","value":0},"value":1},"gridWidth":{"condition":{"test":"date(datum.value) !== 1","value":0.55},"value":1.1}}}},
    "layer":[
     {"data":{"name":"daily"},"mark":{"type":"bar","color":"#4E79A7","stroke":"#4E79A7","strokeWidth":0.8},
      "encoding":{"y":{"field":"cor_pos","type":"quantitative","title":null,"scale":{"domain":[-0.0049,0.1049],"nice":false},"axis":{"values":[0,0.0125,0.025,0.0375,0.05,0.0625,0.075,0.0875,0.1],"labels":false,"ticks":false,"gridWidth":{"condition":{"test":"round(datum.value*10000) % 250 !== 0","value":0.55},"value":1.1},"minExtent":0,"maxExtent":0}}}},
     {"data":{"name":"weekly"},"transform":[{"filter":"datum.county === 'Cortland'"}],"mark":{"type":"point","shape":"circle","filled":false,"size":170,"strokeWidth":3.5,"color":"#F28E2B","opacity":0.8},
      "encoding":{"y":{"field":"control","type":"quantitative","title":"Probability transmission is under control","scale":{"domain":[-0.049,1.049],"nice":false},"axis":{"orient":"right","values":[0,0.25,0.5,0.75,1],"format":".0%","grid":false,"labelColor":"#F28E2B","labelFontSize":19.5,"labelPadding":5,"titleColor":"#F28E2B","titleFontSize":23,"titlePadding":3,"minExtent":68,"maxExtent":68}}}}
    ],
    "resolve":{"scale":{"y":"independent"}}}
  ]}
 ]}
]}
],
"config":{
 "font":"DejaVu Sans",
 "view":{"stroke":"#333333","strokeWidth":1.2},
 "axis":{"domain":false,"tickColor":"#333333","tickWidth":1.1,"tickSize":5,"gridColor":"#EBEBEB","titleFontWeight":"normal","labelFont":"DejaVu Sans","titleFont":"DejaVu Sans","labelOverlap":false},
 "axisX":{"labelFontSize":15,"labelColor":"#4D4D4D","labelPadding":3,"labelFlush":false}
}
}
